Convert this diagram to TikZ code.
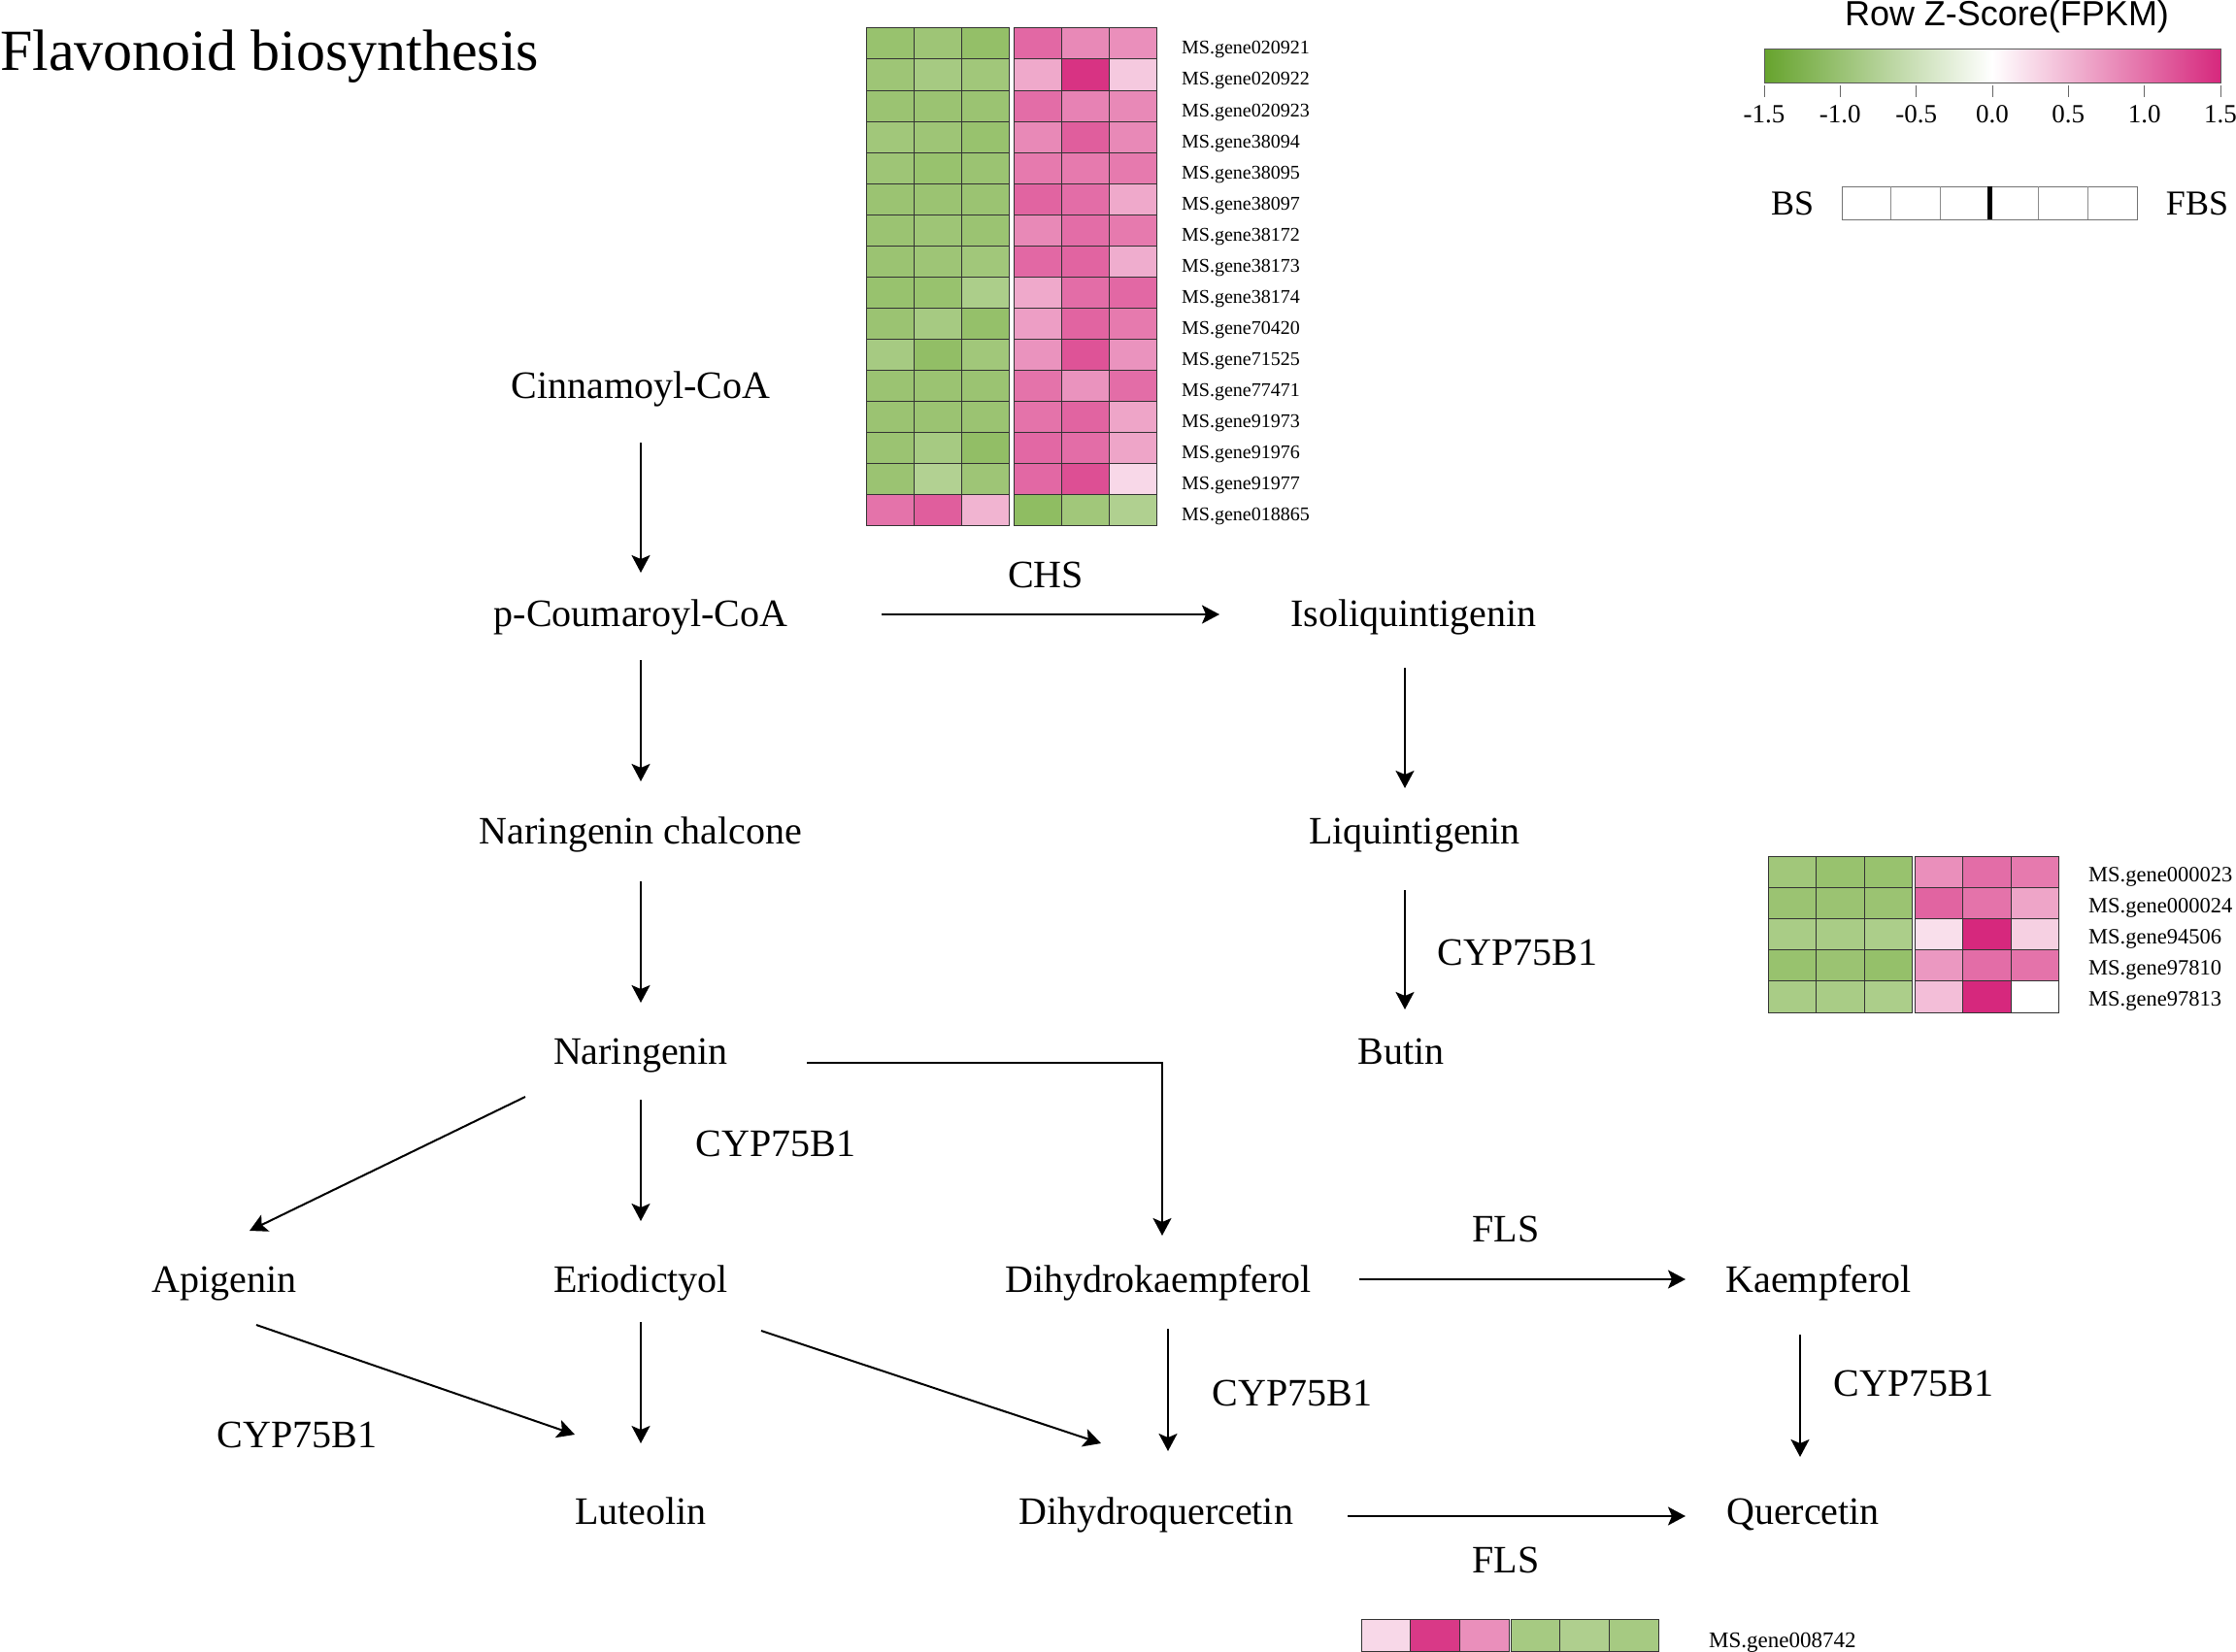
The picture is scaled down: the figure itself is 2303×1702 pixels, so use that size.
\documentclass[tikz,border=0pt]{standalone}
\usepackage{fontspec}
\setmainfont{Liberation Serif}
\newfontfamily\sansf{Liberation Sans}
\usetikzlibrary{arrows.meta,calc}
\definecolor{G}{RGB}{102,163,45}
\definecolor{Gc}{RGB}{112,170,54}
\definecolor{P}{RGB}{214,40,125}
\newcommand\hmcells[5]{\foreach \c [count=\i from 0] in {#5} {\path[cellst,fill=\c] ({#1+\i*#3},#2) rectangle ++(#3,#4);}}
\begin{document}
\begin{tikzpicture}[x=1pt,y=-1pt,
  lab/.style={font=\fontsize{40}{48}\selectfont, inner sep=0, anchor=base},
  arr/.style={-{Stealth[length=18pt,width=19pt,inset=4pt]}, line width=2pt},
  cellst/.style={draw=black!80, line width=1pt},
  gene/.style={font=\fontsize{20}{24}\selectfont, inner sep=0, anchor=base west},
  geneb/.style={font=\fontsize{22.5}{26}\selectfont, inner sep=0, anchor=base west},
  tick/.style={font=\fontsize{27}{30}\selectfont, inner sep=0, anchor=base}]
\useasboundingbox (0,0) rectangle (2303,1702);

% title
\node[font=\fontsize{60}{70}\selectfont, inner sep=0, anchor=base west] (title) at (0,73) {Flavonoid biosynthesis};

% compounds
\node[lab] (cin)   at (660,410)  {Cinnamoyl-CoA};
\node[lab] (pcou)  at (660,645)  {p-Coumaroyl-CoA};
\node[lab] (nchal) at (660,869)  {Naringenin chalcone};
\node[lab] (nar)   at (660,1096) {Naringenin};
\node[lab] (api)   at (231,1331) {Apigenin};
\node[lab] (erio)  at (660,1331) {Eriodictyol};
\node[lab] (dhk)   at (1193,1331) {Dihydrokaempferol};
\node[lab] (kae)   at (1873,1331) {Kaempferol};
\node[lab] (lut)   at (660,1570) {Luteolin};
\node[lab] (dhq)   at (1191,1570) {Dihydroquercetin};
\node[lab] (que)   at (1857,1570) {Quercetin};
\node[lab] (iso)   at (1456,645) {Isoliquintigenin};
\node[lab] (liq)   at (1457,869) {Liquintigenin};
\node[lab] (but)   at (1443,1096) {Butin};

% enzymes
\node[lab] (chs)  at (1077,605)  {CHS};
\node[lab] (cyp1) at (1563,994)  {CYP75B1};
\node[lab] (cyp2) at (799,1191)  {CYP75B1};
\node[lab] (fls1) at (1551,1279) {FLS};
\node[lab] (cyp3) at (1331,1448) {CYP75B1};
\node[lab] (cyp4) at (1971,1438) {CYP75B1};
\node[lab] (cyp5) at (306,1491)  {CYP75B1};
\node[lab] (fls2) at (1551,1620) {FLS};

% arrows
\draw[arr] ([shift={(0,46)}]cin.base) -- ([shift={(0,-55)}]pcou.base);
\draw[arr] ([shift={(0,35)}]pcou.base) -- ([shift={(0,-64)}]nchal.base);
\draw[arr] ([shift={(0,39)}]nchal.base) -- ([shift={(0,-63)}]nar.base);
\draw[arr] ([shift={(0,37)}]nar.base) -- ([shift={(0,-73)}]erio.base);
\draw[arr] ([shift={(-119,34)}]nar.base) -- ([shift={(26,-63)}]api.base);
\draw[arr] ([shift={(171,-1)}]nar.base) -| ([shift={(4,-58)}]dhk.base);
\draw[arr] ([shift={(248,-12)}]pcou.base) -- ([shift={(-200,-12)}]iso.base);
\draw[arr] ([shift={(-9,43)}]iso.base) -- ([shift={(-10,-57)}]liq.base);
\draw[arr] ([shift={(-10,48)}]liq.base) -- ([shift={(4,-56)}]but.base);
\draw[arr] ([shift={(207,-13)}]dhk.base) -- ([shift={(-137,-13)}]kae.base);
\draw[arr] ([shift={(-19,44)}]kae.base) -- ([shift={(-3,-69)}]que.base);
\draw[arr] ([shift={(10,38)}]dhk.base) -- ([shift={(12,-75)}]dhq.base);
\draw[arr] ([shift={(0,31)}]erio.base) -- ([shift={(0,-83)}]lut.base);
\draw[arr] ([shift={(33,34)}]api.base) -- ([shift={(-68,-92)}]lut.base);
\draw[arr] ([shift={(124,40)}]erio.base) -- ([shift={(-57,-83)}]dhq.base);
\draw[arr] ([shift={(197,-8)}]dhq.base) -- ([shift={(-121,-8)}]que.base);

% top heatmap
\hmcells{892}{29}{49}{32}{Gc!72,Gc!68,Gc!75} \hmcells{1044}{29}{49}{32}{P!70,P!55,P!52}
\hmcells{892}{61}{49}{32}{Gc!68,Gc!62,Gc!66} \hmcells{1044}{61}{49}{32}{P!40,P!95,P!25}
\hmcells{892}{93}{49}{32}{Gc!70,Gc!70,Gc!70} \hmcells{1044}{93}{49}{32}{P!68,P!58,P!55}
\hmcells{892}{125}{49}{32}{Gc!66,Gc!68,Gc!72} \hmcells{1044}{125}{49}{32}{P!55,P!75,P!55}
\hmcells{892}{157}{49}{32}{Gc!68,Gc!72,Gc!70} \hmcells{1044}{157}{49}{32}{P!62,P!62,P!62}
\hmcells{892}{189}{49}{32}{Gc!70,Gc!70,Gc!70} \hmcells{1044}{189}{49}{32}{P!72,P!68,P!40}
\hmcells{892}{221}{49}{32}{Gc!70,Gc!68,Gc!70} \hmcells{1044}{221}{49}{32}{P!55,P!68,P!62}
\hmcells{892}{253}{49}{32}{Gc!70,Gc!68,Gc!66} \hmcells{1044}{253}{49}{32}{P!70,P!72,P!38}
\hmcells{892}{285}{49}{32}{Gc!72,Gc!72,Gc!58} \hmcells{1044}{285}{49}{32}{P!40,P!68,P!70}
\hmcells{892}{317}{49}{32}{Gc!70,Gc!62,Gc!74} \hmcells{1044}{317}{49}{32}{P!45,P!72,P!62}
\hmcells{892}{349}{49}{32}{Gc!62,Gc!76,Gc!66} \hmcells{1044}{349}{49}{32}{P!50,P!80,P!50}
\hmcells{892}{381}{49}{32}{Gc!70,Gc!70,Gc!70} \hmcells{1044}{381}{49}{32}{P!65,P!50,P!68}
\hmcells{892}{413}{49}{32}{Gc!70,Gc!70,Gc!70} \hmcells{1044}{413}{49}{32}{P!65,P!72,P!42}
\hmcells{892}{445}{49}{32}{Gc!70,Gc!62,Gc!76} \hmcells{1044}{445}{49}{32}{P!70,P!68,P!42}
\hmcells{892}{477}{49}{32}{Gc!70,Gc!54,Gc!68} \hmcells{1044}{477}{49}{32}{P!70,P!82,P!18}
\hmcells{892}{509}{49}{32}{P!65,P!75,P!35} \hmcells{1044}{509}{49}{32}{Gc!78,Gc!66,Gc!55}

\node[gene] (t1)  at (1217,56)  {MS.gene020921};
\node[gene] (t2)  at (1217,88)  {MS.gene020922};
\node[gene] (t3)  at (1217,120) {MS.gene020923};
\node[gene] (t4)  at (1217,152) {MS.gene38094};
\node[gene] (t5)  at (1217,184) {MS.gene38095};
\node[gene] (t6)  at (1217,216) {MS.gene38097};
\node[gene] (t7)  at (1217,248) {MS.gene38172};
\node[gene] (t8)  at (1217,280) {MS.gene38173};
\node[gene] (t9)  at (1217,312) {MS.gene38174};
\node[gene] (t10) at (1217,344) {MS.gene70420};
\node[gene] (t11) at (1217,376) {MS.gene71525};
\node[gene] (t12) at (1217,408) {MS.gene77471};
\node[gene] (t13) at (1217,440) {MS.gene91973};
\node[gene] (t14) at (1217,472) {MS.gene91976};
\node[gene] (t15) at (1217,504) {MS.gene91977};
\node[gene] (t16) at (1217,536) {MS.gene018865};

% right heatmap
\hmcells{1821}{882}{49.5}{32.2}{Gc!66,Gc!72,Gc!72} \hmcells{1972}{882}{49.5}{32.2}{P!52,P!68,P!62}
\hmcells{1821}{914.2}{49.5}{32.2}{Gc!70,Gc!70,Gc!70} \hmcells{1972}{914.2}{49.5}{32.2}{P!72,P!65,P!42}
\hmcells{1821}{946.4}{49.5}{32.2}{Gc!60,Gc!60,Gc!58} \hmcells{1972}{946.4}{49.5}{32.2}{P!15,P!100,P!22}
\hmcells{1821}{978.6}{49.5}{32.2}{Gc!72,Gc!70,Gc!74} \hmcells{1972}{978.6}{49.5}{32.2}{P!48,P!68,P!65}
\hmcells{1821}{1010.8}{49.5}{32.2}{Gc!60,Gc!60,Gc!58} \hmcells{1972}{1010.8}{49.5}{32.2}{P!30,P!100,white}

\node[geneb] (r1) at (2151,908)    {MS.gene000023};
\node[geneb] (r2) at (2151,940.2)  {MS.gene000024};
\node[geneb] (r3) at (2151,972.4)  {MS.gene94506};
\node[geneb] (r4) at (2151,1004.6) {MS.gene97810};
\node[geneb] (r5) at (2151,1036.8) {MS.gene97813};

% bottom heatmap
\hmcells{1402}{1668}{50.7}{33}{P!18,P!92,P!52} \hmcells{1556}{1668}{50.7}{33}{Gc!62,Gc!56,Gc!62}
\node[geneb,font=\fontsize{23}{26}\selectfont] (b1) at (1760,1697) {MS.gene008742};

% legend
\node[font=\sansf\fontsize{36}{40}\selectfont, inner sep=0, anchor=base] (zt) at (2067,27) {Row Z-Score(FPKM)};
\shade[left color=G, right color=P, middle color=white] (1817,51) rectangle (2287,86);
\draw[black!65, line width=1pt] (1817,51) rectangle (2287,86);
\foreach \k/\t in {0/-1.5,1/-1.0,2/-0.5,3/0.0,4/0.5,5/1.0,6/1.5} {
  \draw[black!60, line width=1pt] ({1817+\k*78.33},88) -- ++(0,12);
  \node[tick] at ({1817+\k*78.33},126) {\t};
}
\node[lab, font=\fontsize{36}{40}\selectfont] (bs) at (1846,221) {BS};
\node[lab, font=\fontsize{36}{40}\selectfont] (fbs) at (2263,221) {FBS};
\draw[black!55, line width=1pt] (1897,192) rectangle (2201,226);
\foreach \k in {1,2,4,5} {\draw[black!45, line width=1pt] ({1897+\k*50.67},192) -- ++(0,34);}
\draw[black, line width=5pt] ({1897+3*50.67},192) -- ++(0,34);
\end{tikzpicture}
\end{document}
